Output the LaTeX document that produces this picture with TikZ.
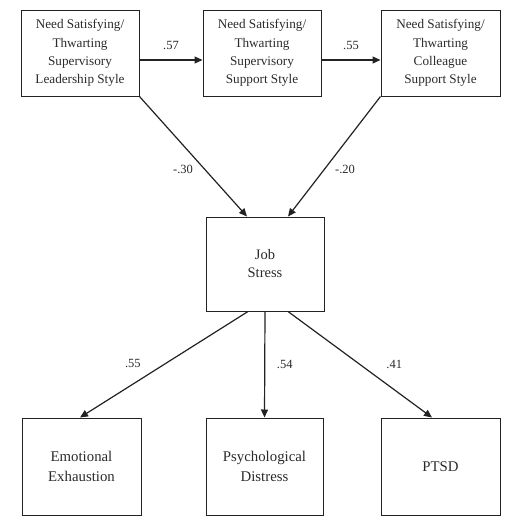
\documentclass[tikz,border=0pt]{standalone}
\usepackage{fontspec}
\setmainfont{Liberation Serif}
\usetikzlibrary{arrows.meta}
\definecolor{inkgray}{HTML}{222222}
\definecolor{textgray}{HTML}{2A2A2A}
\begin{document}
\begin{tikzpicture}[x=1pt, y=-1pt]
\tikzstyle{topbox} = [draw=inkgray, line width=1pt, text=textgray, align=center,
    minimum width=118pt, minimum height=86pt, inner sep=0pt,
    font=\fontsize{13.2}{18.3}\selectfont]
\tikzstyle{midbox} = [topbox, minimum height=94pt,
    font=\fontsize{14.5}{18}\selectfont]
\tikzstyle{outbox} = [topbox, minimum height=97pt,
    font=\fontsize{14.8}{19.5}\selectfont]
\tikzstyle{path} = [draw=inkgray, line width=1.2pt, -{Triangle[length=8pt,width=7pt]}]
\tikzstyle{coef} = [text=textgray, font=\fontsize{12.5}{14}\selectfont, inner sep=0pt]

\useasboundingbox (0,0) rectangle (507,520);

% predictors
\node[topbox] (lead) at (80,53) {Need Satisfying/\\Thwarting\\Supervisory\\Leadership Style};
\node[topbox] (supsup) at (262,53) {Need Satisfying/\\Thwarting\\Supervisory\\Support Style};
\node[topbox, minimum width=119pt] (colsup) at (440.5,53) {Need Satisfying/\\Thwarting\\Colleague\\Support Style};

% mediator
\node[midbox] (stress) at (265,264) {Job\\Stress};

% outcomes
\node[outbox, minimum width=119pt] (exh) at (81.5,466.5) {Emotional\\Exhaustion};
\node[outbox, minimum width=117pt] (dist) at (264.5,466.5) {Psychological\\Distress};
\node[outbox, minimum width=119pt] (ptsd) at (440.5,466.5) {PTSD};

% paths
\draw[path] ([yshift=-7pt]lead.east) -- node[coef, yshift=15pt] {.57} ([yshift=-7pt]supsup.west);
\draw[path] ([yshift=-7pt]supsup.east) -- node[coef, yshift=15pt] {.55} ([yshift=-7pt]colsup.west);
\draw[path] (lead.south east) -- node[coef, pos=0.61, xshift=-22pt] {-.30} ([xshift=-18pt]stress.north);
\draw[path] (colsup.south west) -- node[coef, pos=0.61, xshift=21pt] {-.20} ([xshift=23pt]stress.north);
\draw[path] ([xshift=-17pt]stress.south) -- node[coef, pos=0.495, xshift=-32pt] {.55} ([xshift=-1.5pt]exh.north);
\draw[path] (stress.south) -- node[coef, xshift=20pt] {.54} (dist.north);
\draw[path] ([xshift=23pt]stress.south) -- node[coef, pos=0.495, xshift=35pt] {.41} ([xshift=-8.5pt]ptsd.north);
\end{tikzpicture}
\end{document}
